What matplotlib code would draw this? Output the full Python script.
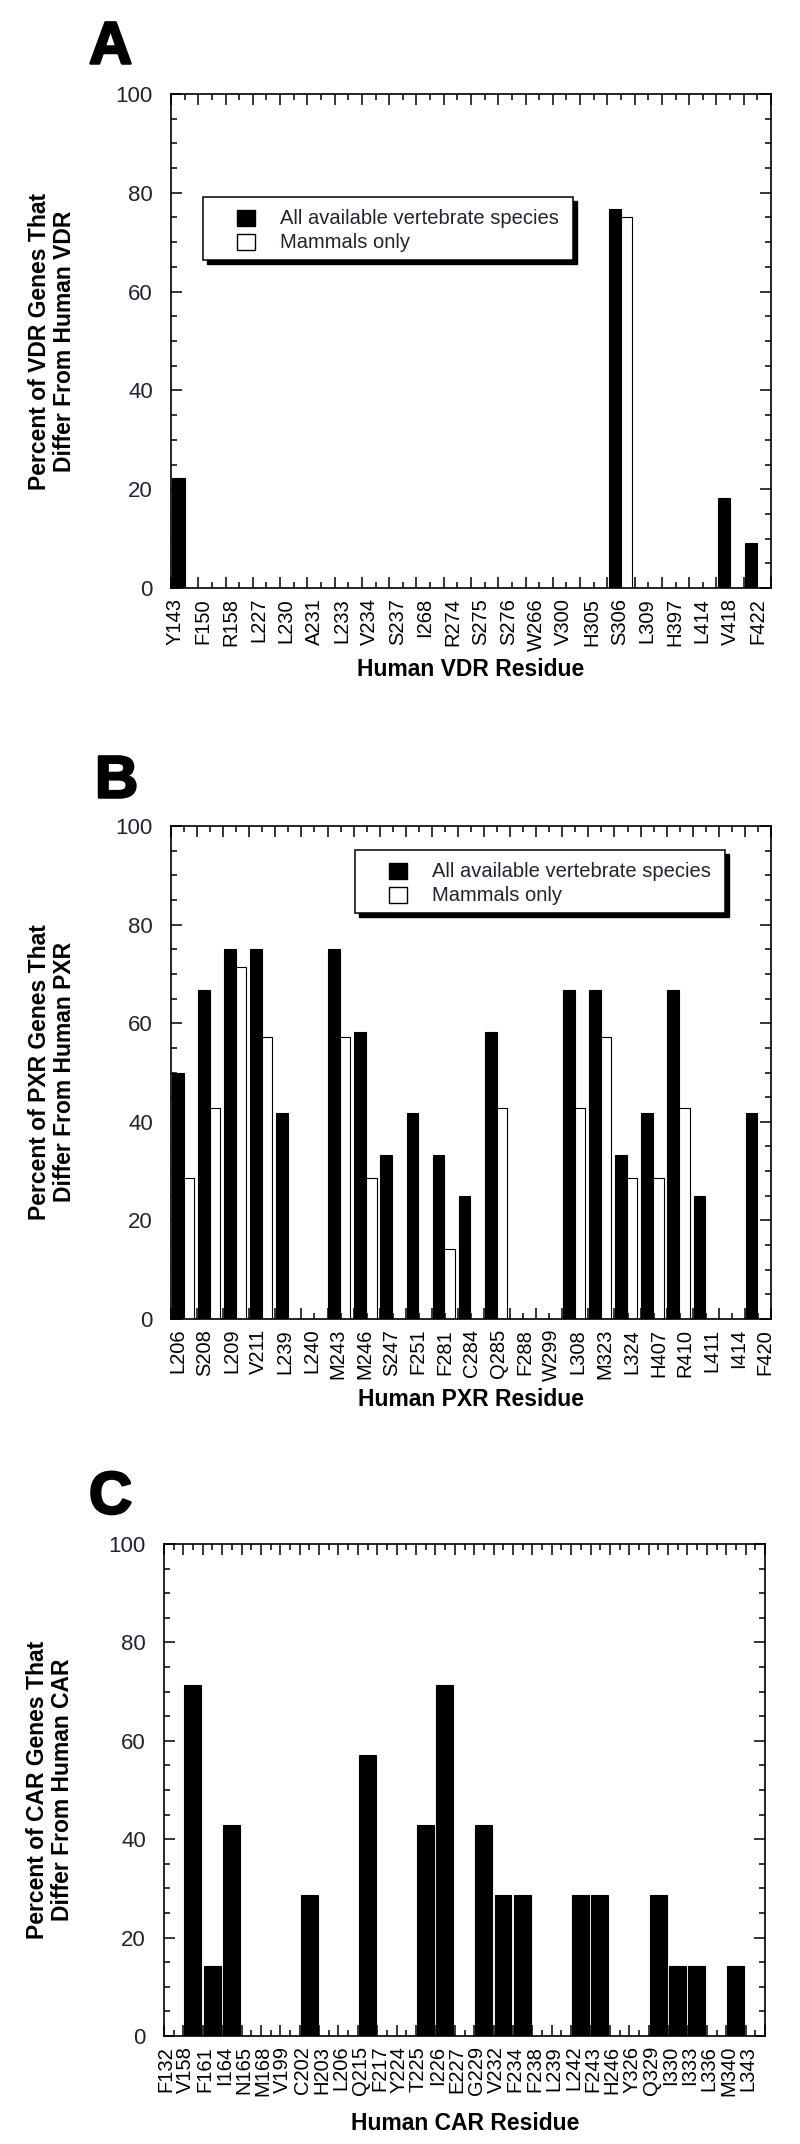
import numpy as np
import matplotlib
matplotlib.use("Agg")
import matplotlib.pyplot as plt
import matplotlib.transforms as mtransforms
import matplotlib.patheffects as pe
from matplotlib.patches import Rectangle
from matplotlib.ticker import MultipleLocator

plt.rcParams['font.family'] = ['Liberation Sans', 'DejaVu Sans']

# ---- data ----
vdr_residues = ["Y143", "F150", "R158", "L227", "L230", "A231", "L233", "V234", "S237", "I268",
                "R274", "S275", "S276", "W266", "V300", "H305", "S306", "L309", "H397", "L414",
                "V418", "F422"]
vdr_all = [22.2, 0, 0, 0, 0, 0, 0, 0, 0, 0, 0, 0, 0, 0, 0, 0, 76.7, 0, 0, 0, 18.2, 9.1]
vdr_mammals = [0, 0, 0, 0, 0, 0, 0, 0, 0, 0, 0, 0, 0, 0, 0, 0, 75.0, 0, 0, 0, 0, 0]

pxr_residues = ["L206", "S208", "L209", "V211", "L239", "L240", "M243", "M246", "S247", "F251",
                "F281", "C284", "Q285", "F288", "W299", "L308", "M323", "L324", "H407", "R410",
                "L411", "I414", "F420"]
pxr_all = [50.0, 66.7, 75.0, 75.0, 41.7, 0, 75.0, 58.3, 33.3, 41.7, 33.3, 25.0, 58.3, 0, 0,
           66.7, 66.7, 33.3, 41.7, 66.7, 25.0, 0, 41.7]
pxr_mammals = [28.6, 42.9, 71.4, 57.1, 0, 0, 57.1, 28.6, 0, 0, 14.3, 0, 42.9, 0, 0,
               42.9, 57.1, 28.6, 28.6, 42.9, 0, 0, 0]

car_residues = ["F132", "V158", "F161", "I164", "N165", "M168", "V199", "C202", "H203", "L206",
                "Q215", "F217", "Y224", "T225", "I226", "E227", "G229", "V232", "F234", "F238",
                "L239", "L242", "F243", "H246", "Y326", "Q329", "I330", "I333", "L336", "M340",
                "L343"]
car_all = [0, 71.4, 14.3, 42.9, 0, 0, 0, 28.6, 0, 0, 57.1, 0, 0, 42.9, 71.4, 0, 42.9, 28.6,
           28.6, 0, 0, 28.6, 28.6, 0, 0, 28.6, 14.3, 14.3, 0, 14.3, 0]

legend_labels = ["All available vertebrate species", "Mammals only"]

W, H = 800, 2144
fig = plt.figure(figsize=(W / 100, H / 100), dpi=100)


def make_axes(left, right, top, bottom):
    return fig.add_axes([left / W, 1 - bottom / H, (right - left) / W, (bottom - top) / H])


def style_axes(ax, n, labels, lab_off, lab_step):
    ax.set_xlim(0, n)
    ax.set_ylim(0, 100)
    ax.xaxis.set_major_locator(MultipleLocator(1))
    ax.xaxis.set_minor_locator(MultipleLocator(0.5))
    ax.yaxis.set_major_locator(MultipleLocator(20))
    ax.yaxis.set_minor_locator(MultipleLocator(5))
    ax.tick_params(which='both', direction='in', top=True, right=True, width=1.1)
    ax.tick_params(which='major', length=8)
    ax.tick_params(which='minor', length=4.3)
    ax.tick_params(axis='x', labelbottom=False)
    ax.tick_params(axis='y', labelsize=16, pad=13, labelcolor='#222233')
    for s in ax.spines.values():
        s.set_linewidth(1.2)
    trans = mtransforms.blended_transform_factory(ax.transData, ax.transAxes)
    for i, lab in enumerate(labels):
        ax.text(lab_off + i * lab_step, -0.02, lab, transform=trans, rotation=90,
                ha='center', va='top', fontsize=14.5)


def draw_legend(ax, box_px, ax_px):
    # box_px: left, top in pixels; ax_px: left, right, top, bottom of axes in pixels
    al, ar, at, ab = ax_px
    aw, ah = ar - al, ab - at

    def to_ax(x, y):
        return (x - al) / aw, (ab - y) / ah

    bx, by = box_px
    bw, bh = 370, 63
    x0, y0 = to_ax(bx, by + bh)
    shadow_tr = mtransforms.offset_copy(ax.transAxes, fig=fig, x=4, y=-4, units='dots')
    ax.add_patch(Rectangle((x0, y0), bw / aw, bh / ah, transform=shadow_tr, fc='black',
                           ec='black', clip_on=False, zorder=5))
    ax.add_patch(Rectangle((x0, y0), bw / aw, bh / ah, transform=ax.transAxes, fc='white',
                           ec='black', lw=1.1, clip_on=False, zorder=6))
    for k, (lab, col) in enumerate(zip(legend_labels, ['black', 'white'])):
        sx, sy = to_ax(bx + 34, by + 13 + 24 * k + 16)
        ax.add_patch(Rectangle((sx, sy), 18 / aw, 16 / ah, transform=ax.transAxes, fc=col,
                               ec='black', lw=1, clip_on=False, zorder=7))
        tx, ty = to_ax(bx + 77, by + 21 + 24 * k)
        ax.text(tx, ty, lab, transform=ax.transAxes, fontsize=14.5, va='center', ha='left',
                color='#222233', zorder=8)


# ---- Panel A: VDR ----
axA_px = (171, 771, 94, 588)
axA = make_axes(*axA_px)
x = np.arange(len(vdr_residues))
axA.bar(x + 0.05, vdr_all, width=0.45, align='edge', color='black', edgecolor='black', lw=0.8)
axA.bar(x + 0.5, vdr_mammals, width=0.39, align='edge', color='white', edgecolor='black', lw=0.8)
style_axes(axA, len(vdr_residues), vdr_residues, 0.16, 1.017)
draw_legend(axA, (203, 197), axA_px)

# ---- Panel B: PXR ----
axB_px = (171, 771, 826, 1319)
axB = make_axes(*axB_px)
x = np.arange(len(pxr_residues))
axB.bar(x + 0.03, pxr_all, width=0.45, align='edge', color='black', edgecolor='black', lw=0.8)
axB.bar(x + 0.48, pxr_mammals, width=0.4, align='edge', color='white', edgecolor='black', lw=0.8)
style_axes(axB, len(pxr_residues), pxr_residues, 0.27, 1.023)
draw_legend(axB, (355, 850), axB_px)

# ---- Panel C: CAR ----
axC_px = (164, 765, 1544, 2036)
axC = make_axes(*axC_px)
x = np.arange(len(car_residues))
axC.bar(x + 0.05, car_all, width=0.87, align='edge', color='black', edgecolor='black', lw=0.8)
style_axes(axC, len(car_residues), car_residues, 0.12, 1.0)

# ---- axis titles and panel letters ----
def ftext(xp, yp, s, **kw):
    return fig.text(xp / W, 1 - yp / H, s, **kw)

for letter, lx, ly in [("A", 89, 48), ("B", 95, 782), ("C", 89, 1498)]:
    t = ftext(lx, ly, letter, fontsize=43, fontweight='bold', ha='left', va='center')
    t.set_path_effects([pe.withStroke(linewidth=1.8, foreground='black')])

ylab_kw = dict(rotation=90, ha='center', va='center', fontsize=16.5, fontweight='bold',
               multialignment='center', linespacing=1.15)
ftext(52, 341, "Percent of VDR Genes That\nDiffer From Human VDR", **ylab_kw)
ftext(52, 1072, "Percent of PXR Genes That\nDiffer From Human PXR", **ylab_kw)
ftext(50, 1790, "Percent of CAR Genes That\nDiffer From Human CAR", **ylab_kw)

xlab_kw = dict(ha='center', va='center', fontsize=16.5, fontweight='bold')
ftext(471, 670, "Human VDR Residue", **xlab_kw)
ftext(471, 1399, "Human PXR Residue", **xlab_kw)
ftext(465, 2124, "Human CAR Residue", **xlab_kw)

fig.savefig("out.png", dpi=100)
